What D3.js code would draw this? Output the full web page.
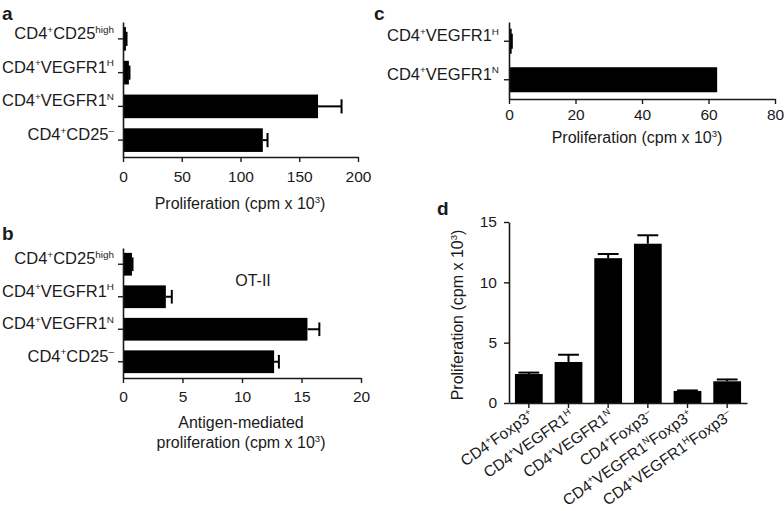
<!DOCTYPE html>
<html>
<head>
<meta charset="utf-8">
<script src="https://cdn.jsdelivr.net/npm/d3@7"></script>
<style>
  html, body { margin: 0; padding: 0; background: #fff; }
  svg { display: block; }
  text { font-family: "Liberation Sans", Arial, Helvetica, sans-serif; fill: #1a1a1a; }
</style>
</head>
<body>
<svg id="chart" width="784" height="511"></svg>
<script>
// ---- Data (superscripts written inside braces) ----
const aCategories = ["CD4{+}CD25{high}", "CD4{+}VEGFR1{H}", "CD4{+}VEGFR1{N}", "CD4{+}CD25{–}"];
const aValues = [2.5, 5, 166, 119];
const aErrors = [0.5, 0.5, 20, 4];
const aTicks = [0, 50, 100, 150, 200];

const bCategories = ["CD4{+}CD25{high}", "CD4{+}VEGFR1{H}", "CD4{+}VEGFR1{N}", "CD4{+}CD25{–}"];
const bValues = [0.75, 3.6, 15.5, 12.7];
const bErrors = [0.05, 0.5, 1.0, 0.4];
const bTicks = [0, 5, 10, 15, 20];

const cCategories = ["CD4{+}VEGFR1{H}", "CD4{+}VEGFR1{N}"];
const cValues = [0.8, 62.6];
const cErrors = [0.05, 0];
const cTicks = [0, 20, 40, 60, 80];

const dCategories = ["CD4{+}Foxp3{+}", "CD4{+}VEGFR1{H}", "CD4{+}VEGFR1{N}", "CD4{+}Foxp3{–}", "CD4{+}VEGFR1{N}Foxp3{+}", "CD4{+}VEGFR1{H}Foxp3{–}"];
const dValues = [2.4, 3.4, 12.0, 13.2, 1.0, 1.8];
const dErrors = [0.12, 0.6, 0.35, 0.7, 0.04, 0.15];
const dTicks = [0, 5, 10, 15];

// ---- helpers ----
const svg = d3.select("#chart");
const INK = "#1a1a1a";
const TICK_FS = 15.5;   // numeric tick labels
const LAB_FS = 16.5;    // category labels
const D_LAB_FS = 15.5;  // rotated category labels (panel d)
const TITLE_FS = 16;    // axis titles

function parseLabel(s) {
  const parts = [];
  const re = /([^{]+)|\{([^}]*)\}/g;
  let m;
  while ((m = re.exec(s)) !== null) {
    if (m[1] !== undefined) parts.push({ t: m[1], sup: false });
    else parts.push({ t: m[2], sup: true });
  }
  return parts;
}

function richText(sel, s, fs) {
  sel.text(null);
  const parts = parseLabel(s);
  let raised = false;
  parts.forEach(p => {
    const ts = sel.append("tspan").text(p.t);
    if (p.sup) {
      ts.attr("font-size", fs * 0.6).attr("dy", raised ? 0 : -fs * 0.38);
      raised = true;
    } else {
      ts.attr("font-size", fs).attr("dy", raised ? fs * 0.38 : 0);
      raised = false;
    }
  });
}

function styleAxis(g) {
  g.selectAll(".domain").attr("stroke", INK).attr("stroke-width", 1.6);
  g.selectAll(".tick line").attr("stroke", INK).attr("stroke-width", 1.4);
  g.selectAll(".tick text").attr("font-size", TICK_FS).attr("fill", INK)
    .attr("font-family", '"Liberation Sans", Arial, sans-serif');
}

function hBarPanel(opts) {
  const { cats, vals, errs, ticks, x0, x1, y0, y1, max, tickPad, labelPad } = opts;
  const x = d3.scaleLinear().domain([0, max]).range([x0, x1]);
  const y = d3.scaleBand().domain(cats).range([y0, y1]).paddingInner(opts.pin).paddingOuter(opts.pout);
  const g = svg.append("g");
  g.selectAll("rect.bar").data(cats).join("rect")
    .attr("x", x(0)).attr("y", d => y(d))
    .attr("width", (d, i) => x(vals[i]) - x(0))
    .attr("height", y.bandwidth()).attr("fill", "#000");
  const cap = y.bandwidth() * 0.6;
  cats.forEach((c, i) => {
    if (errs[i] <= 0) return;
    const cy = y(c) + y.bandwidth() / 2;
    g.append("line").attr("x1", x(vals[i])).attr("x2", x(vals[i] + errs[i]))
      .attr("y1", cy).attr("y2", cy).attr("stroke", "#000").attr("stroke-width", 2);
    g.append("line").attr("x1", x(vals[i] + errs[i])).attr("x2", x(vals[i] + errs[i]))
      .attr("y1", cy - cap / 2).attr("y2", cy + cap / 2).attr("stroke", "#000").attr("stroke-width", 2);
  });
  const gx = svg.append("g").attr("transform", `translate(0,${y1})`)
    .call(d3.axisBottom(x).tickValues(ticks).tickSize(5).tickSizeOuter(0).tickPadding(tickPad).tickFormat(d3.format("d")));
  styleAxis(gx);
  const gy = svg.append("g").attr("transform", `translate(${x0},0)`)
    .call(d3.axisLeft(y).tickSize(5).tickSizeOuter(0).tickPadding(labelPad));
  styleAxis(gy);
  gy.selectAll(".tick text").each(function (d) { richText(d3.select(this), d, LAB_FS); });
  return { x, y };
}

// ---- Panel a ----
hBarPanel({ cats: aCategories, vals: aValues, errs: aErrors, ticks: aTicks,
  x0: 123, x1: 358, y0: 22, y1: 157, max: 200, pin: 0.3, pout: 0.15, tickPad: 9, labelPad: 4 });
svg.append("text").attr("x", 240).attr("y", 209).attr("text-anchor", "middle")
  .call(s => richText(s, "Proliferation (cpm x 10{3})", TITLE_FS));

// ---- Panel b ----
hBarPanel({ cats: bCategories, vals: bValues, errs: bErrors, ticks: bTicks,
  x0: 123, x1: 361, y0: 248, y1: 378, max: 20, pin: 0.3, pout: 0.15, tickPad: 8, labelPad: 4 });
svg.append("text").attr("x", 241).attr("y", 428).attr("text-anchor", "middle").attr("font-size", TITLE_FS)
  .text("Antigen-mediated");
svg.append("text").attr("x", 241).attr("y", 448).attr("text-anchor", "middle")
  .call(s => richText(s, "proliferation (cpm x 10{3})", TITLE_FS));
svg.append("text").attr("x", 253).attr("y", 286).attr("text-anchor", "middle").attr("font-size", TITLE_FS)
  .text("OT-II");

// ---- Panel c ----
hBarPanel({ cats: cCategories, vals: cValues, errs: cErrors, ticks: cTicks,
  x0: 509, x1: 775, y0: 22, y1: 99, max: 80, pin: 0.35, pout: 0.175, tickPad: 5, labelPad: 5 });
svg.append("text").attr("x", 637).attr("y", 143).attr("text-anchor", "middle")
  .call(s => richText(s, "Proliferation (cpm x 10{3})", TITLE_FS));

// ---- Panel d ----
(function () {
  const x = d3.scaleBand().domain(dCategories).range([509, 747]).paddingInner(0.3).paddingOuter(0.15);
  const y = d3.scaleLinear().domain([0, 15]).range([403, 222]);
  const g = svg.append("g");
  g.selectAll("rect").data(dCategories).join("rect")
    .attr("x", d => x(d)).attr("width", x.bandwidth())
    .attr("y", (d, i) => y(dValues[i])).attr("height", (d, i) => y(0) - y(dValues[i]))
    .attr("fill", "#000");
  const cap = x.bandwidth() * 0.75;
  dCategories.forEach((c, i) => {
    const cx = x(c) + x.bandwidth() / 2;
    g.append("line").attr("x1", cx).attr("x2", cx)
      .attr("y1", y(dValues[i])).attr("y2", y(dValues[i] + dErrors[i])).attr("stroke", "#000").attr("stroke-width", 2);
    g.append("line").attr("x1", cx - cap / 2).attr("x2", cx + cap / 2)
      .attr("y1", y(dValues[i] + dErrors[i])).attr("y2", y(dValues[i] + dErrors[i])).attr("stroke", "#000").attr("stroke-width", 2);
  });
  const gy = svg.append("g").attr("transform", "translate(509,0)")
    .call(d3.axisLeft(y).tickValues(dTicks).tickSize(5).tickSizeOuter(0).tickPadding(7).tickFormat(d3.format("d")));
  styleAxis(gy);
  const gx = svg.append("g").attr("transform", "translate(0,403)")
    .call(d3.axisBottom(x).tickSize(5).tickSizeOuter(0));
  styleAxis(gx);
  gx.selectAll(".tick text")
    .attr("text-anchor", "end").attr("dy", null).attr("y", null)
    .attr("transform", "translate(6,15) rotate(-35)")
    .each(function (d) { richText(d3.select(this), d, D_LAB_FS); });
  svg.append("text").attr("transform", "translate(463,315) rotate(-90)")
    .attr("text-anchor", "middle")
    .call(s => richText(s, "Proliferation (cpm x 10{3})", TITLE_FS));
})();

// ---- panel letters ----
[["a", 2, 20], ["b", 2, 240], ["c", 374, 20], ["d", 437, 215]].forEach(([t, px, py]) => {
  svg.append("text").attr("x", px).attr("y", py).attr("font-size", 19).attr("font-weight", "bold").text(t);
});
</script>
</body>
</html>
